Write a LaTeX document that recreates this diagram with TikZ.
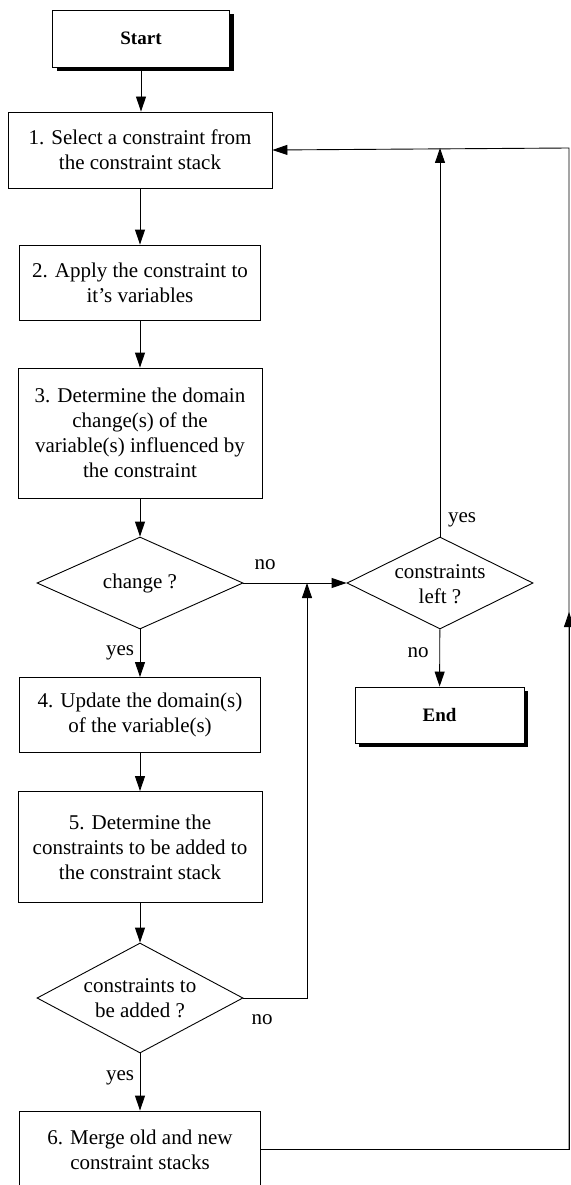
\documentclass[tikz,border=0pt]{standalone}
\usepackage{fontspec}
\setmainfont{Liberation Serif}
\usetikzlibrary{arrows.meta,shapes.geometric,shadows}

\begin{document}
\begin{tikzpicture}[x=1pt,y=-1pt,
  every node/.style={font=\fontsize{21}{25}\selectfont},
  proc/.style={draw, line width=0.9pt, rectangle, inner sep=0pt, align=center, fill=white},
  term/.style={proc, font=\fontsize{19}{23}\selectfont\bfseries,
    drop shadow={shadow xshift=4pt, shadow yshift=-4pt, fill=black, opacity=1}},
  dia/.style={draw, line width=0.9pt, diamond, inner sep=0pt},
  arr/.style={line width=0.9pt, -{Triangle[length=15pt,width=10pt]}},
  lbl/.style={inner sep=0pt, align=center}
]
\useasboundingbox (0,0) rectangle (570,1185);

% main column
\node[term, minimum width=177pt, minimum height=57pt] (start) at (141,38.5) {Start};
\node[proc, minimum width=264pt, minimum height=76pt] (b1) at (140,150)
  {1. Select a constraint from\\the constraint stack};
\node[proc, minimum width=241pt, minimum height=75pt] (b2) at (140,282.5)
  {2. Apply the constraint to\\it's variables};
\node[proc, minimum width=244pt, minimum height=130pt] (b3) at (140,433)
  {3. Determine the domain\\change(s) of the\\variable(s) influenced by\\the constraint};
\node[dia, minimum width=206pt, minimum height=92pt] (d1) at (140,583) {};
\node[lbl] (d1t) at (d1) {change ?};
\node[proc, minimum width=241pt, minimum height=75pt] (b4) at (140,715)
  {4. Update the domain(s)\\of the variable(s)};
\node[proc, minimum width=244pt, minimum height=111pt] (b5) at (140,847)
  {5. Determine the\\constraints to be added to\\the constraint stack};
\node[dia, minimum width=206pt, minimum height=110pt] (d2) at (140,998) {};
\node[lbl] (d2t) at (d2) {constraints to\\be added ?};
\node[proc, minimum width=241pt, minimum height=77pt] (b6) at (140,1149.5)
  {6. Merge old and new\\constraint stacks};

% right column
\node[dia, minimum width=186pt, minimum height=92pt] (d3) at (440,583) {};
\node[lbl] (d3t) at (440,584) {constraints\\left ?};
\node[term, minimum width=169pt, minimum height=56pt] (stop) at (439.5,715) {End};

% junctions and corners
\coordinate (j1) at (307,583);
\coordinate (j2) at (440,148);
\coordinate (rt) at (569,148);
\coordinate (rm) at (569,612);

% labels
\node[lbl] (l1) at (265,565) {no};
\node[lbl] (l2) at (120,653) {yes};
\node[lbl] (l3) at (262,1020) {no};
\node[lbl] (l4) at (120,1078) {yes};
\node[lbl] (l5) at (462,520) {yes};
\node[lbl] (l6) at (418,653) {no};

% connectors
\draw[arr] (start.south) -- (start.south |- b1.north);
\draw[arr] (b1) -- (b2);
\draw[arr] (b2) -- (b3);
\draw[arr] (b3) -- (d1);
\draw[arr] (d1) -- (b4);
\draw[arr] (b4) -- (b5);
\draw[arr] (b5) -- (d2);
\draw[arr] (d2) -- (b6);
\draw[arr] (d1) -- (d3);
\draw[arr] (d2.east) -| (j1);
\draw[arr] (d3) -- (stop);
\draw[arr] (d3.north) -- (j2);
\draw[arr] (b6.east) -| (rt) -- (b1.east);
\draw[arr] (b6.east -| rt) -- (rm);
\end{tikzpicture}
\end{document}
